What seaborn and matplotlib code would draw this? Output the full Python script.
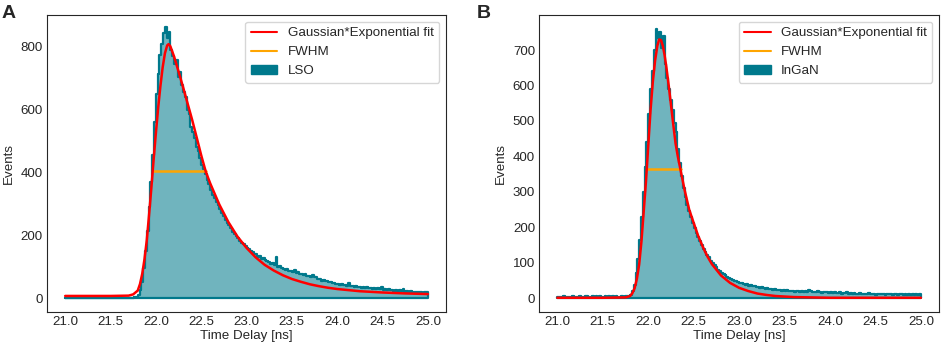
import numpy as np
import pandas as pd
import seaborn as sns
import matplotlib.pyplot as plt
from matplotlib.lines import Line2D
from matplotlib.patches import Patch

# histogram bins (ns), 0.02 ns wide
bin_edges = [round(21.0 + 0.02 * i, 3) for i in range(201)]

# LSO counts per bin
lso_counts = [
    1, 0, 1, 1, 0, 2, 1, 0, 1, 1,
    2, 0, 1, 1, 0, 1, 2, 1, 0, 1,
    1, 0, 1, 2, 1, 1, 0, 1, 1, 2,
    1, 0, 1, 2, 1, 1, 2, 2, 3, 4,
    10, 25, 50, 95, 150, 215, 290, 370, 455, 560,
    650, 715, 775, 810, 845, 862, 830, 848, 790, 770,
    745, 760, 705, 720, 680, 655, 640, 600, 585, 545,
    530, 510, 480, 470, 445, 425, 410, 395, 375, 362,
    345, 330, 318, 305, 298, 285, 270, 262, 248, 240,
    232, 222, 212, 205, 198, 190, 182, 176, 172, 165,
    160, 155, 150, 146, 140, 142, 132, 135, 125, 128,
    122, 118, 114, 110, 113, 104, 132, 100, 102, 96,
    94, 90, 92, 86, 88, 84, 89, 80, 84, 76,
    78, 74, 76, 70, 72, 68, 73, 66, 68, 62,
    60, 56, 58, 53, 55, 50, 52, 47, 49, 45,
    46, 43, 45, 41, 43, 39, 47, 38, 40, 37,
    38, 35, 37, 33, 36, 32, 34, 31, 33, 30,
    32, 29, 31, 28, 34, 27, 29, 26, 28, 25,
    27, 24, 26, 23, 25, 22, 28, 21, 23, 21,
    22, 20, 21, 19, 21, 18, 20, 17, 19, 20,
]

# InGaN counts per bin
ingan_counts = [
    3, 4, 2, 5, 3, 2, 4, 3, 5, 2,
    4, 3, 6, 4, 3, 5, 7, 4, 3, 5,
    4, 6, 3, 5, 4, 3, 5, 4, 6, 3,
    5, 4, 6, 3, 4, 5, 4, 6, 5, 6,
    10, 20, 38, 70, 110, 165, 230, 300, 370, 440,
    520, 590, 640, 700, 760, 735, 750, 705, 740, 660,
    620, 590, 560, 530, 495, 470, 420, 380, 345, 310,
    285, 262, 245, 228, 212, 198, 184, 172, 160, 150,
    140, 130, 122, 115, 106, 100, 93, 88, 80, 76,
    72, 68, 64, 60, 57, 54, 51, 49, 47, 45,
    44, 42, 40, 38, 39, 35, 36, 33, 34, 31,
    32, 29, 30, 28, 27, 29, 25, 26, 24, 25,
    23, 24, 22, 21, 23, 20, 22, 19, 21, 20,
    18, 21, 19, 18, 20, 17, 19, 18, 22, 20,
    17, 18, 16, 19, 17, 15, 18, 16, 17, 15,
    16, 14, 17, 15, 14, 16, 13, 15, 14, 16,
    13, 14, 12, 15, 13, 12, 14, 11, 13, 12,
    12, 14, 11, 13, 12, 10, 13, 11, 12, 11,
    10, 12, 11, 13, 10, 11, 12, 9, 11, 12,
    10, 11, 9, 12, 10, 11, 9, 12, 10, 11,
]

# Gaussian*Exponential fit curves
lso_fit_t = [21.0, 21.5, 21.7, 21.75, 21.8, 21.825, 21.85, 21.875, 21.9, 21.925,
             21.95, 21.975, 22.0, 22.025, 22.05, 22.075, 22.1, 22.125, 22.14, 22.16,
             22.2, 22.25, 22.3, 22.35, 22.4, 22.45, 22.5, 22.55, 22.6, 22.7,
             22.8, 22.9, 23.0, 23.1, 23.2, 23.3, 23.4, 23.5, 23.6, 23.7,
             23.8, 23.9, 24.0, 24.25, 24.5, 24.75, 25.0]
lso_fit_v = [7, 7, 8, 12, 24, 45, 78, 125, 185, 265,
             350, 440, 525, 605, 675, 735, 780, 805, 809, 802,
             770, 722, 672, 620, 568, 512, 455, 403, 365, 298,
             242, 196, 160, 130, 106, 88, 73, 61, 52, 44,
             38, 33, 29, 22, 18, 15, 13]

ingan_fit_t = [21.0, 21.5, 21.75, 21.8, 21.825, 21.85, 21.875, 21.9, 21.925, 21.95,
               21.975, 22.0, 22.025, 22.05, 22.075, 22.1, 22.12, 22.14, 22.16, 22.18,
               22.2, 22.225, 22.25, 22.275, 22.3, 22.325, 22.35, 22.4, 22.45, 22.5,
               22.55, 22.6, 22.65, 22.7, 22.8, 22.9, 23.0, 23.1, 23.2, 23.3,
               23.4, 23.6, 23.8, 24.0, 25.0]
ingan_fit_v = [1, 1, 2, 6, 14, 28, 55, 95, 160, 245,
               330, 430, 530, 610, 670, 712, 730, 728, 712, 685,
               650, 600, 545, 490, 437, 400, 368, 305, 250, 212,
               175, 145, 118, 96, 64, 43, 29, 20, 13, 9,
               6, 3, 2, 1, 1]

# FWHM segments: (start, end), height
lso_fwhm = [21.965, 22.55]
lso_half = 404
ingan_fwhm = [21.985, 22.36]
ingan_half = 365

teal = '#00798c'
fs = 9.6

sns.set_style('white')
plt.rcParams['font.family'] = ['Liberation Sans', 'DejaVu Sans']

fig = plt.figure(figsize=(9.41, 3.47), dpi=100)
ax_a = fig.add_axes([0.050, 0.101, 0.424, 0.856])
ax_b = fig.add_axes([0.573, 0.101, 0.425, 0.856])

panels = [
    (ax_a, lso_counts, lso_fit_t, lso_fit_v, lso_fwhm, lso_half, 'LSO', (-44, 902), 200),
    (ax_b, ingan_counts, ingan_fit_t, ingan_fit_v, ingan_fwhm, ingan_half, 'InGaN', (-39, 799), 100),
]

centers = [(bin_edges[i] + bin_edges[i + 1]) / 2 for i in range(200)]
for ax, counts, fit_t, fit_v, fwhm, half, name, ylim, ystep in panels:
    df = pd.DataFrame({'t': centers, 'n': counts})
    sns.histplot(data=df, x='t', weights='n', bins=bin_edges, element='step',
                 color=teal, alpha=0.56, linewidth=1.6, ax=ax)
    sns.lineplot(x=fwhm, y=[half, half], color='orange', linewidth=1.8, ax=ax)
    sns.lineplot(x=fit_t, y=fit_v, color='red', linewidth=1.8, ax=ax)

    ax.set_xlim(20.8, 25.2)
    ax.set_ylim(*ylim)
    ax.set_xticks(np.arange(21.0, 25.01, 0.5))
    ax.set_yticks(np.arange(0, ylim[1], ystep))
    ax.tick_params(labelsize=fs, length=0, pad=3)
    ax.set_xlabel('Time Delay [ns]', fontsize=fs, labelpad=1.5)
    ax.set_ylabel('Events', fontsize=fs, labelpad=4)

    handles = [Line2D([], [], color='red', linewidth=1.5),
               Line2D([], [], color='orange', linewidth=1.5),
               Patch(color=teal)]
    ax.legend(handles, ['Gaussian*Exponential fit', 'FWHM', name],
              loc='upper right', fontsize=fs)

fig.text(0.002, 0.985, 'A', fontsize=14, fontweight='bold', va='top')
fig.text(0.507, 0.985, 'B', fontsize=14, fontweight='bold', va='top')

fig.savefig('out.png', dpi=100)
